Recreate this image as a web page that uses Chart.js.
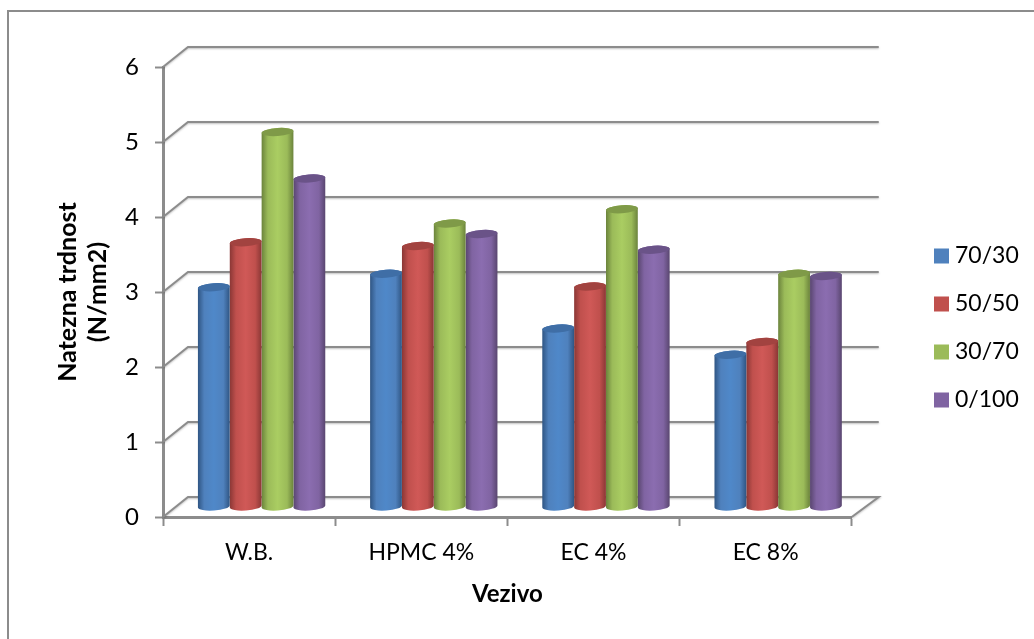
<!DOCTYPE html>
<html>
<head>
<meta charset="utf-8">
<title>Natezna trdnost</title>
<script src="https://cdn.jsdelivr.net/npm/chart.js@4"></script>
<style>
    html, body { margin: 0; padding: 0; background: #fff; }
    canvas { display: block; }
</style>
</head>
<body>
<canvas id="strengthChart" width="1034" height="639"></canvas>
<script>
const categories = ['W.B.', 'HPMC 4%', 'EC 4%', 'EC 8%'];
const seriesNames = ['70/30', '50/50', '30/70', '0/100'];
const values7030 = [2.93, 3.11, 2.38, 2.03];
const values5050 = [3.53, 3.48, 2.94, 2.2];
const values3070 = [5.0, 3.78, 3.97, 3.11];
const values0100 = [4.38, 3.64, 3.43, 3.08];
const yTicks = [0, 1, 2, 3, 4, 5, 6];

const baseColors = ['#4f81bd', '#c0504d', '#9bbb59', '#8064a2'];
const edgeColors = ['#2f5583', '#8a3735', '#6b833c', '#59466f'];
const midColors = ['#4f88c9', '#d05957', '#aacd62', '#8b6db0'];
const capColors = ['#3f6ea6', '#a24340', '#7f9a48', '#6a5388'];

const lineColor = '#8c8c8c';
const depthX = 25;
const depthY = -20;
const frontLift = -10; // cylinders stand half way into the floor

const frame3d = {
    id: 'frame3d',
    afterLayout(chart) {
        // legend sits further out than the layout would put it
        const legend = chart.legend;
        const dx = 914.5 - legend.left;
        legend.left += dx;
        legend.right += dx;
        legend.top -= 25;
        legend.bottom -= 25;
    },
    beforeDatasetsDraw(chart) {
        const { ctx, chartArea, scales } = chart;
        ctx.save();
        // outer frame of the chart object
        ctx.strokeStyle = lineColor;
        ctx.lineWidth = 2;
        ctx.beginPath();
        ctx.moveTo(8, 639);
        ctx.lineTo(8, 11);
        ctx.lineTo(1034, 11);
        ctx.stroke();

        ctx.shadowColor = 'rgba(0,0,0,0.25)';
        ctx.shadowBlur = 2;
        ctx.shadowOffsetY = 1;
        yTicks.forEach((tick) => {
            const y = scales.y.getPixelForValue(tick);
            ctx.beginPath();
            ctx.moveTo(chartArea.left, y);
            ctx.lineTo(chartArea.left + depthX, y + depthY);
            ctx.lineTo(chartArea.right + depthX + 2, y + depthY);
            if (tick === 0) {
                ctx.lineTo(chartArea.right, y);
            }
            ctx.stroke();
        });
        ctx.restore();
    },
    beforeDatasetDraw(chart, args) {
        const { ctx } = chart;
        const i = args.index;
        args.meta.data.forEach((bar) => {
            drawCylinder(ctx, bar, i);
        });
        return false;
    }
};

function drawCylinder(ctx, bar, i) {
    const rx = bar.width / 2;
    const ry = 4;
    const tilt = -0.07;
    const cx = bar.x + depthX / 2;
    const topY = bar.y + frontLift;
    const baseY = bar.base + frontLift;

    const grad = ctx.createLinearGradient(cx - rx, 0, cx + rx, 0);
    grad.addColorStop(0, edgeColors[i]);
    grad.addColorStop(0.2, baseColors[i]);
    grad.addColorStop(0.5, midColors[i]);
    grad.addColorStop(0.8, baseColors[i]);
    grad.addColorStop(1, edgeColors[i]);

    ctx.save();
    ctx.beginPath();
    ctx.ellipse(cx, baseY, rx, ry, tilt, 0, Math.PI);
    ctx.ellipse(cx, topY, rx, ry, tilt, Math.PI, Math.PI * 2);
    ctx.closePath();
    ctx.fillStyle = grad;
    ctx.fill();

    ctx.beginPath();
    ctx.ellipse(cx, topY, rx, ry, tilt, 0, Math.PI * 2);
    ctx.fillStyle = capColors[i];
    ctx.fill();
    ctx.restore();
}

const allValues = [values7030, values5050, values3070, values0100];

new Chart(document.getElementById('strengthChart'), {
    type: 'bar',
    data: {
        labels: categories,
        datasets: seriesNames.map((name, i) => ({
            label: name,
            data: allValues[i],
            backgroundColor: baseColors[i],
            categoryPercentage: 0.74,
            barPercentage: 1
        }))
    },
    options: {
        responsive: false,
        animation: false,
        layout: { padding: { top: 67, right: 68, bottom: 0, left: 0 } },
        plugins: {
            tooltip: { enabled: false },
            legend: {
                position: 'right',
                labels: {
                    usePointStyle: true,
                    pointStyle: 'rect',
                    boxWidth: 4, // narrow slot keeps the text close to the square
                    boxHeight: 15,
                    padding: 25,
                    color: '#000',
                    font: { family: 'Lato', size: 23 }
                }
            }
        },
        scales: {
            x: {
                afterFit: (scale) => { scale.height = 122; },
                grid: {
                    offset: true,
                    drawOnChartArea: false,
                    drawTicks: true,
                    tickLength: 9,
                    tickWidth: 2,
                    tickColor: lineColor
                },
                border: { color: lineColor, width: 3 },
                ticks: {
                    color: '#000',
                    padding: 13,
                    maxRotation: 0,
                    font: { family: 'Lato', size: 23 }
                },
                title: {
                    display: true,
                    text: 'Vezivo',
                    color: '#000',
                    font: { family: 'Lato', size: 24, weight: 'bold' },
                    padding: { top: 0, bottom: 30 }
                }
            },
            y: {
                min: 0,
                max: 6,
                afterFit: (scale) => { scale.width = 163; },
                afterBuildTicks: (scale) => {
                    scale.ticks = yTicks.map((v) => ({ value: v }));
                },
                grid: {
                    drawOnChartArea: false,
                    drawTicks: true,
                    tickLength: 8,
                    tickWidth: 2,
                    tickColor: lineColor
                },
                border: { color: lineColor, width: 3 },
                ticks: {
                    color: '#000',
                    padding: 16,
                    font: { family: 'Lato', size: 24 }
                },
                title: {
                    display: true,
                    text: ['Natezna trdnost', '(N/mm2)'],
                    color: '#000',
                    font: { family: 'Lato', size: 25, weight: 'bold' },
                    padding: { top: 53, bottom: 0 }
                }
            }
        }
    },
    plugins: [frame3d]
});
</script>
</body>
</html>
